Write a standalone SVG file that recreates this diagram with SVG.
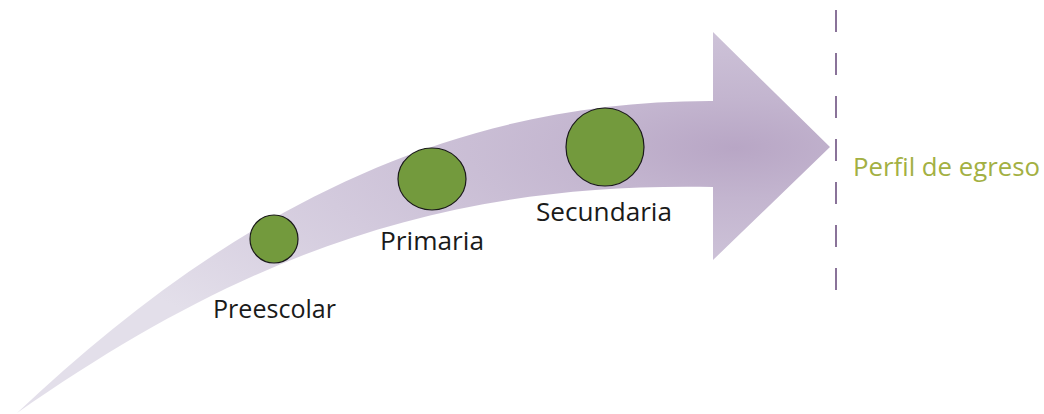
<svg xmlns="http://www.w3.org/2000/svg" width="1044" height="414" viewBox="0 0 1044 414">
<defs>
<radialGradient id="g" gradientUnits="userSpaceOnUse" cx="735" cy="148" r="720" gradientTransform="translate(735,148) scale(1,0.35) translate(-735,-148)">
<stop offset="0" stop-color="#b8a6c5"/>
<stop offset="0.2" stop-color="#c3b5cf"/>
<stop offset="0.6" stop-color="#d3cadd"/>
<stop offset="1" stop-color="#e3dfea"/>
</radialGradient>
<style>
.lbl{font-family:"Open Sans","Noto Sans","Liberation Sans",sans-serif;font-size:26px;fill:#1a1a1a}
.node{fill:#739a3d;stroke:#1a1a1a;stroke-width:1.2}
</style>
</defs>
<g id="arrow">
<path d="M17,413 C200,240 420,100 713,101 L713,32 L830,147 L713,260 L713,187 C450,182 250,250 17,413 Z" fill="url(#g)"/>
</g>
<g id="connectors">
<line x1="836" y1="10" x2="836" y2="295" stroke="#8a7399" stroke-width="2" stroke-dasharray="22,21"/>
</g>
<g id="preescolar">
<circle class="node" cx="274" cy="239" r="24"/>
<text class="lbl" x="213" y="318" textLength="123" lengthAdjust="spacingAndGlyphs">Preescolar</text>
</g>
<g id="primaria">
<ellipse class="node" cx="432" cy="179" rx="34" ry="31"/>
<text class="lbl" x="380" y="250" textLength="104" lengthAdjust="spacingAndGlyphs">Primaria</text>
</g>
<g id="secundaria">
<circle class="node" cx="605" cy="147" r="39"/>
<text class="lbl" x="536" y="221" textLength="136" lengthAdjust="spacingAndGlyphs">Secundaria</text>
</g>
<g id="perfil">
<text x="853" y="176" textLength="187" lengthAdjust="spacingAndGlyphs" style="font-family:'Open Sans','Noto Sans','Liberation Sans',sans-serif;font-size:26px;fill:#a3b043">Perfil de egreso</text>
</g>
</svg>
